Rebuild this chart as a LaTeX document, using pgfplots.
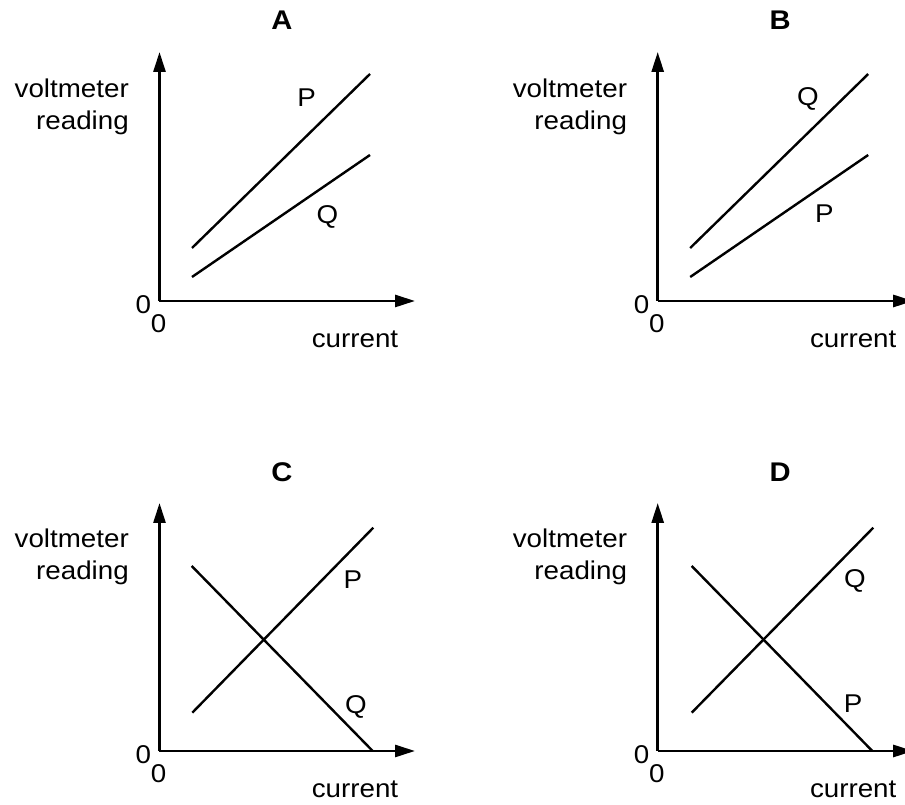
\documentclass[border=0pt]{standalone}
\usepackage{fontspec}
\setmainfont{Liberation Sans}[FakeStretch=1.08]
\usepackage{pgfplots}
\pgfplotsset{compat=1.18}
\usetikzlibrary{arrows.meta}

\newcommand\lbl{\fontsize{25.7pt}{31.6pt}\selectfont}
\newcommand\ttl{\fontsize{27pt}{32pt}\selectfont\bfseries}

\pgfplotsset{
  panel/.style={
    scale only axis, anchor=south west,
    width=255.5pt, height=#1pt,
    xmin=0, xmax=255.5, ymin=0, ymax=#1,
    enlargelimits=false, clip=false,
    axis lines=left,
    axis line style={line width=2.7pt, -{Triangle[length=20pt,width=12pt]}},
    xtick=\empty, ytick=\empty,
  },
  ln/.style={black, line width=2.4pt, mark=none},
}

% text common to every panel
\newcommand\panelText{%
  \node[anchor=north east, align=right, inner sep=0pt, font=\lbl] at (axis cs:-30.5,222) {voltmeter\\reading};
  \node[inner sep=0pt, font=\lbl] at (axis cs:-16.2,-4) {0};
  \node[inner sep=0pt, font=\lbl] at (axis cs:-0.8,-23) {0};
  \node[anchor=base, inner sep=0pt, font=\lbl] at (axis cs:195.5,-46.3) {current};
}

\begin{document}
\begin{tikzpicture}
\path[use as bounding box] (0pt,0pt) rectangle (905pt,805pt);

% A
\begin{axis}[panel=249, at={(159.5pt,504pt)}]
\addplot[ln] coordinates {(32.5,53) (210.5,227)};
\addplot[ln] coordinates {(32.5,24) (210.5,146)};
\panelText
\node[font=\ttl] at (axis cs:122.5,281) {A};
\node[anchor=base, inner sep=0pt, font=\lbl] at (axis cs:147.2,194) {P};
\node[anchor=base, inner sep=0pt, font=\lbl] at (axis cs:168,77) {Q};
\end{axis}

% B
\begin{axis}[panel=249, at={(657.7pt,504pt)}]
\addplot[ln] coordinates {(32.5,53) (210.5,227)};
\addplot[ln] coordinates {(32.5,24) (210.5,146)};
\panelText
\node[font=\ttl] at (axis cs:122.5,281) {B};
\node[anchor=base, inner sep=0pt, font=\lbl] at (axis cs:150.3,195) {Q};
\node[anchor=base, inner sep=0pt, font=\lbl] at (axis cs:166.6,78) {P};
\end{axis}

% C
\begin{axis}[panel=248, at={(159.5pt,54pt)}]
\addplot[ln] coordinates {(32.8,38.3) (213.8,223.3)};
\addplot[ln] coordinates {(32.2,185) (213.2,0)};
\panelText
\node[font=\ttl] at (axis cs:122.5,279) {C};
\node[anchor=base, inner sep=0pt, font=\lbl] at (axis cs:193.5,162.7) {P};
\node[anchor=base, inner sep=0pt, font=\lbl] at (axis cs:196.5,37.7) {Q};
\end{axis}

% D
\begin{axis}[panel=248, at={(657.7pt,54pt)}]
\addplot[ln] coordinates {(34,38.3) (215.6,223.3)};
\addplot[ln] coordinates {(34,185) (214.6,0)};
\panelText
\node[font=\ttl] at (axis cs:122.5,279) {D};
\node[anchor=base, inner sep=0pt, font=\lbl] at (axis cs:197.3,163) {Q};
\node[anchor=base, inner sep=0pt, font=\lbl] at (axis cs:195.3,38) {P};
\end{axis}
\end{tikzpicture}
\end{document}
